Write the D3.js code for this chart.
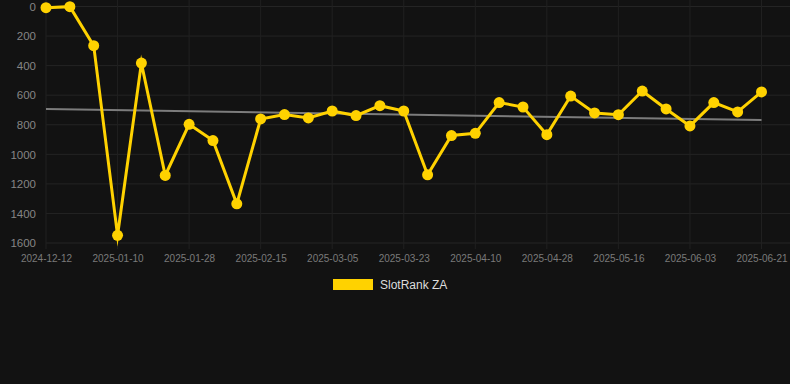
<!DOCTYPE html>
<html>
<head>
<meta charset="utf-8">
<script src="https://cdn.jsdelivr.net/npm/d3@7"></script>
<style>
  html, body { margin: 0; padding: 0; background: #121212; }
  svg { display: block; font-family: "Liberation Sans", Arial, sans-serif; }
</style>
</head>
<body>
<div id="chart"></div>
<script>
var dates = ["2024-12-12", "2024-12-22", "2025-01-01", "2025-01-10", "2025-01-16", "2025-01-22",
    "2025-01-28", "2025-02-03", "2025-02-09", "2025-02-15", "2025-02-21", "2025-02-27",
    "2025-03-05", "2025-03-11", "2025-03-17", "2025-03-23", "2025-03-29", "2025-04-04",
    "2025-04-10", "2025-04-16", "2025-04-22", "2025-04-28", "2025-05-04", "2025-05-10",
    "2025-05-16", "2025-05-22", "2025-05-28", "2025-06-03", "2025-06-09", "2025-06-15",
    "2025-06-21"];
var ranks = [8, 1, 265, 1548, 383, 1143, 797, 907, 1335, 761, 731, 754, 707, 738, 671, 707,
    1139, 873, 858, 650, 680, 867, 606, 720, 732, 572, 693, 808, 650, 713, 578];
var trend = [694, 768];
var yTicks = [0, 200, 400, 600, 800, 1000, 1200, 1400, 1600];
var seriesName = "SlotRank ZA";

var width = 790, height = 384;
var plotLeft = 46, plotRight = 790, plotTop = 6.5, plotBottom = 243;

var svg = d3.select("#chart").append("svg")
    .attr("width", width)
    .attr("height", height);

svg.append("rect")
    .attr("width", width)
    .attr("height", height)
    .attr("fill", "#121212");

var xScale = d3.scalePoint()
    .domain(dates)
    .range([plotLeft, 761.5]);

var yScale = d3.scaleLinear()
    .domain([0, 1600])
    .range([plotTop, plotBottom]);

var labelDates = dates.filter(function (d, i) { return i % 3 == 0; });

// grid
svg.append("g")
    .selectAll("line")
    .data(yTicks)
    .enter().append("line")
    .attr("x1", plotLeft)
    .attr("x2", plotRight)
    .attr("y1", function (d) { return yScale(d); })
    .attr("y2", function (d) { return yScale(d); })
    .attr("stroke", "#242424")
    .attr("stroke-width", 1);

svg.append("g")
    .selectAll("line")
    .data(labelDates)
    .enter().append("line")
    .attr("x1", function (d) { return xScale(d); })
    .attr("x2", function (d) { return xScale(d); })
    .attr("y1", 0)
    .attr("y2", plotBottom + 6)
    .attr("stroke", "#202020")
    .attr("stroke-width", 1);

// y axis
var yAxis = d3.axisLeft(yScale)
    .tickValues(yTicks)
    .tickSize(0)
    .tickPadding(0)
    .tickFormat(d3.format("d"));

var yg = svg.append("g")
    .attr("transform", "translate(36,0)")
    .call(yAxis);
yg.select(".domain").remove();
yg.selectAll("text")
    .attr("fill", "#858585")
    .attr("font-size", 11.5)
    .attr("font-family", "Liberation Sans, Arial, sans-serif");

// x axis
var xAxis = d3.axisBottom(xScale)
    .tickValues(labelDates)
    .tickSize(0)
    .tickPadding(0);

var xg = svg.append("g")
    .attr("transform", "translate(0,255)")
    .call(xAxis);
xg.select(".domain").remove();
xg.selectAll("text")
    .attr("fill", "#7a7a7a")
    .attr("font-size", 10)
    .attr("font-family", "Liberation Sans, Arial, sans-serif");

// trend line
svg.append("line")
    .attr("x1", xScale(dates[0]))
    .attr("x2", xScale(dates[dates.length - 1]))
    .attr("y1", yScale(trend[0]))
    .attr("y2", yScale(trend[1]))
    .attr("stroke", "#7c7c7c")
    .attr("stroke-width", 2);

// series
var line = d3.line()
    .x(function (d, i) { return xScale(dates[i]); })
    .y(function (d) { return yScale(d); });

svg.append("path")
    .datum(ranks)
    .attr("d", line)
    .attr("fill", "none")
    .attr("stroke", "#ffd200")
    .attr("stroke-width", 3)
    .attr("stroke-linejoin", "miter")
    .attr("stroke-miterlimit", 10);

svg.append("g")
    .selectAll("circle")
    .data(ranks)
    .enter().append("circle")
    .attr("cx", function (d, i) { return xScale(dates[i]); })
    .attr("cy", function (d) { return yScale(d); })
    .attr("r", 5.5)
    .attr("fill", "#ffd200");

// legend
var legend = svg.append("g")
    .attr("transform", "translate(333,279)");
legend.append("rect")
    .attr("width", 40)
    .attr("height", 11)
    .attr("fill", "#ffd200");
legend.append("text")
    .attr("x", 47)
    .attr("y", 10)
    .attr("font-size", 12)
    .attr("fill", "#dddddd")
    .text(seriesName);
</script>
</body>
</html>
